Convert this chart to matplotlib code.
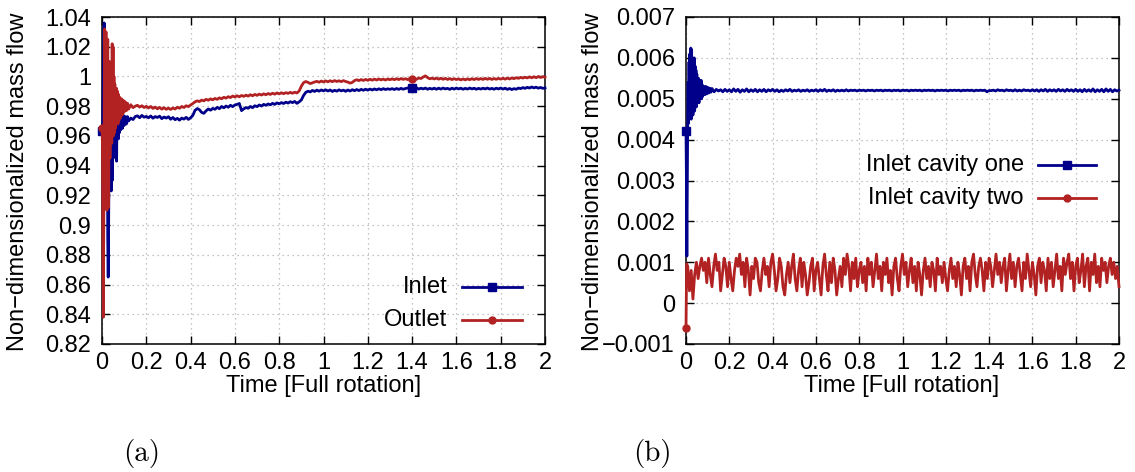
import numpy as np
import matplotlib
matplotlib.use('Agg')
import matplotlib.pyplot as plt
from matplotlib.ticker import FuncFormatter, MultipleLocator

# ---------------- data: panel (a), inlet / outlet mass flow ----------------
# start-up transient, sampled irregularly
t_trans_a = [0.000, 0.002, 0.004, 0.006, 0.008, 0.010, 0.012, 0.014, 0.016, 0.018,
             0.020, 0.022, 0.024, 0.026, 0.028, 0.030, 0.032, 0.034, 0.036, 0.038,
             0.040, 0.042, 0.044, 0.046, 0.048, 0.050, 0.052, 0.054, 0.056, 0.058,
             0.060, 0.062, 0.064, 0.066, 0.068, 0.070, 0.072, 0.074, 0.076, 0.078,
             0.080, 0.084, 0.088, 0.092, 0.096, 0.100, 0.105, 0.110, 0.115, 0.120,
             0.130, 0.140, 0.150]
inlet_trans = [0.963, 0.962, 0.975, 1.000, 1.030, 1.036, 1.010, 0.960, 0.990, 0.940,
               0.975, 0.920, 0.960, 0.890, 0.865, 0.900, 0.960, 0.985, 0.930, 0.975,
               0.945, 0.923, 0.960, 0.930, 0.975, 0.955, 0.985, 0.950, 0.990, 0.960,
               0.985, 0.945, 0.991, 0.943, 0.985, 0.960, 0.980, 0.958, 0.978, 0.962,
               0.976, 0.964, 0.975, 0.965, 0.974, 0.967, 0.973, 0.968, 0.973, 0.970,
               0.972, 0.971, 0.973]
outlet_trans = [0.965, 0.955, 0.900, 0.838, 0.900, 0.980, 1.032, 1.000, 0.940, 1.030,
                0.960, 0.910, 0.990, 1.025, 0.950, 0.912, 0.975, 1.010, 0.945, 0.990,
                0.960, 1.005, 0.955, 1.022, 0.965, 1.020, 0.960, 1.000, 0.962, 0.995,
                0.965, 0.990, 0.968, 0.992, 0.970, 0.990, 0.968, 0.988, 0.970, 0.986,
                0.986, 0.972, 0.985, 0.974, 0.984, 0.976, 0.983, 0.977, 0.982, 0.978,
                0.981, 0.979, 0.980]

# after the transient: samples every 0.01 rotation from 0.16 to 2.00
t_steady_a = np.round(np.arange(16, 201) * 0.01, 2)
inlet_steady = [
    0.9735, 0.9722, 0.9738, 0.9726, 0.9731,
    0.9722, 0.9734, 0.9719, 0.9730, 0.9724, 0.9733, 0.9716, 0.9727, 0.9720, 0.9729,
    0.9712, 0.9724, 0.9709, 0.9718, 0.9706, 0.9720, 0.9713, 0.9725, 0.9711, 0.9722,
    0.9738, 0.9772, 0.9784, 0.9776, 0.9758, 0.9752, 0.9769, 0.9781, 0.9773, 0.9785,
    0.9779, 0.9792, 0.9783, 0.9798, 0.9789, 0.9801, 0.9793, 0.9806, 0.9797, 0.9808,
    0.9812, 0.9818, 0.9770, 0.9782, 0.9791, 0.9786, 0.9798, 0.9790, 0.9803, 0.9797,
    0.9808, 0.9801, 0.9812, 0.9806, 0.9815, 0.9809, 0.9819, 0.9812, 0.9822, 0.9816,
    0.9824, 0.9818, 0.9827, 0.9821, 0.9830, 0.9824, 0.9832, 0.9819, 0.9829, 0.9842,
    0.9872, 0.9893, 0.9901, 0.9896, 0.9906, 0.9899, 0.9908, 0.9901, 0.9909, 0.9903,
    0.9910, 0.9902, 0.9909, 0.9899, 0.9907, 0.9901, 0.9910, 0.9903, 0.9908, 0.9900,
    0.9909, 0.9902, 0.9911, 0.9904, 0.9912, 0.9905, 0.9913, 0.9907, 0.9914, 0.9908,
    0.9915, 0.9909, 0.9916, 0.9910, 0.9917, 0.9911, 0.9918, 0.9912, 0.9917, 0.9913,
    0.9918, 0.9912, 0.9919, 0.9913, 0.9920, 0.9914, 0.9919, 0.9922, 0.9928, 0.9924,
    0.9918, 0.9924, 0.9915, 0.9921, 0.9916, 0.9922, 0.9914, 0.9920, 0.9915, 0.9921,
    0.9914, 0.9921, 0.9915, 0.9922, 0.9916, 0.9920, 0.9913, 0.9921, 0.9915, 0.9922,
    0.9916, 0.9921, 0.9914, 0.9920, 0.9915, 0.9922, 0.9916, 0.9921, 0.9914, 0.9920,
    0.9915, 0.9921, 0.9916, 0.9922, 0.9915, 0.9920, 0.9914, 0.9921, 0.9916, 0.9922,
    0.9915, 0.9921, 0.9913, 0.9919, 0.9912, 0.9918, 0.9914, 0.9922, 0.9918, 0.9925,
    0.9920, 0.9927, 0.9922, 0.9929, 0.9923, 0.9928, 0.9921, 0.9926, 0.9920, 0.9923,
]
outlet_steady = [
    0.9806, 0.9794, 0.9803, 0.9791, 0.9799,
    0.9788, 0.9798, 0.9785, 0.9794, 0.9782, 0.9792, 0.9780, 0.9790, 0.9779, 0.9787,
    0.9778, 0.9788, 0.9781, 0.9793, 0.9786, 0.9798, 0.9791, 0.9803, 0.9797, 0.9808,
    0.9818, 0.9829, 0.9836, 0.9831, 0.9841, 0.9836, 0.9846, 0.9840, 0.9849, 0.9843,
    0.9852, 0.9846, 0.9856, 0.9850, 0.9860, 0.9854, 0.9864, 0.9858, 0.9868, 0.9862,
    0.9870, 0.9863, 0.9872, 0.9866, 0.9874, 0.9868, 0.9877, 0.9870, 0.9879, 0.9873,
    0.9881, 0.9875, 0.9883, 0.9877, 0.9885, 0.9879, 0.9887, 0.9881, 0.9889, 0.9883,
    0.9890, 0.9884, 0.9891, 0.9886, 0.9893, 0.9887, 0.9894, 0.9889, 0.9902, 0.9935,
    0.9958, 0.9966, 0.9960, 0.9952, 0.9957, 0.9963, 0.9967, 0.9961, 0.9969, 0.9963,
    0.9970, 0.9964, 0.9971, 0.9965, 0.9972, 0.9966, 0.9971, 0.9965, 0.9972, 0.9966,
    0.9962, 0.9955, 0.9960, 0.9972, 0.9978, 0.9972, 0.9979, 0.9973, 0.9980, 0.9974,
    0.9981, 0.9975, 0.9982, 0.9976, 0.9983, 0.9977, 0.9982, 0.9976, 0.9983, 0.9978,
    0.9984, 0.9978, 0.9985, 0.9979, 0.9986, 0.9980, 0.9985, 0.9979, 0.9986, 0.9981,
    0.9987, 0.9981, 0.9990, 0.9986, 0.9996, 1.0004, 0.9992, 0.9984, 0.9989, 0.9983,
    0.9989, 0.9982, 0.9988, 0.9981, 0.9987, 0.9980, 0.9986, 0.9979, 0.9985, 0.9979,
    0.9984, 0.9977, 0.9983, 0.9977, 0.9984, 0.9978, 0.9985, 0.9979, 0.9986, 0.9980,
    0.9986, 0.9980, 0.9987, 0.9981, 0.9987, 0.9980, 0.9986, 0.9981, 0.9987, 0.9982,
    0.9988, 0.9982, 0.9989, 0.9983, 0.9990, 0.9985, 0.9992, 0.9987, 0.9994, 0.9989,
    0.9995, 0.9990, 0.9997, 0.9991, 0.9998, 0.9992, 0.9999, 0.9993, 0.9998, 0.9995,
]

# ---------------- data: panel (b), cavity inlets ----------------
t_trans_b = [0.000, 0.002, 0.004, 0.006, 0.008, 0.010, 0.012, 0.014, 0.016, 0.018,
             0.020, 0.022, 0.024, 0.026, 0.028, 0.030, 0.032, 0.034, 0.036, 0.038,
             0.040, 0.042, 0.044, 0.046, 0.048, 0.050, 0.052, 0.054, 0.056, 0.058,
             0.060, 0.062, 0.064, 0.066, 0.068, 0.070, 0.072, 0.074, 0.076, 0.078,
             0.080, 0.084, 0.088, 0.092, 0.096, 0.100, 0.105, 0.110, 0.115, 0.120,
             0.130, 0.140, 0.150]
# values in units of 1e-3
cavity_one_trans = [4.22, 3.00, 1.15, 2.80, 4.60, 5.40, 4.40, 5.90, 4.70, 6.10,
                    4.60, 6.24, 4.50, 6.20, 4.70, 6.00, 4.60, 5.90, 4.80, 6.00,
                    4.70, 5.80, 4.90, 5.70, 4.80, 5.60, 4.90, 5.50, 5.00, 5.50,
                    4.90, 5.45, 5.00, 5.40, 5.05, 5.45, 5.00, 5.35, 5.05, 5.30,
                    5.10, 5.30, 5.10, 5.30, 5.12, 5.28, 5.14, 5.26, 5.16, 5.25,
                    5.17, 5.23, 5.19]
t_steady_b = np.round(np.arange(16, 201) * 0.01, 2)
cavity_one_steady = [
    5.22, 5.17, 5.23, 5.18, 5.22,
    5.17, 5.24, 5.18, 5.23, 5.16, 5.22, 5.18, 5.24, 5.17, 5.22,
    5.18, 5.23, 5.17, 5.22, 5.18, 5.23, 5.17, 5.22, 5.19, 5.23,
    5.18, 5.22, 5.17, 5.21, 5.18, 5.22, 5.19, 5.23, 5.18, 5.21,
    5.19, 5.22, 5.18, 5.21, 5.19, 5.22, 5.18, 5.21, 5.19, 5.22,
    5.18, 5.22, 5.19, 5.23, 5.18, 5.21, 5.19, 5.22, 5.18, 5.21,
    5.19, 5.21, 5.19, 5.22, 5.19, 5.21, 5.20, 5.21, 5.19, 5.21,
    5.20, 5.21, 5.19, 5.21, 5.20, 5.21, 5.19, 5.21, 5.20, 5.21,
    5.19, 5.21, 5.20, 5.21, 5.19, 5.21, 5.20, 5.21, 5.19, 5.21,
    5.20, 5.21, 5.19, 5.21, 5.20, 5.21, 5.20, 5.21, 5.19, 5.21,
    5.20, 5.21, 5.20, 5.21, 5.19, 5.21, 5.20, 5.21, 5.20, 5.21,
    5.19, 5.21, 5.20, 5.21, 5.20, 5.21, 5.19, 5.21, 5.20, 5.21,
    5.20, 5.21, 5.19, 5.21, 5.20, 5.21, 5.20, 5.21, 5.17, 5.20,
    5.20, 5.21, 5.19, 5.22, 5.20, 5.21, 5.19, 5.22, 5.20, 5.21,
    5.19, 5.22, 5.19, 5.21, 5.19, 5.22, 5.20, 5.21, 5.19, 5.22,
    5.19, 5.22, 5.18, 5.22, 5.19, 5.23, 5.18, 5.22, 5.19, 5.22,
    5.18, 5.23, 5.19, 5.22, 5.18, 5.23, 5.19, 5.22, 5.18, 5.23,
    5.18, 5.22, 5.17, 5.23, 5.18, 5.22, 5.18, 5.24, 5.17, 5.22,
    5.18, 5.23, 5.17, 5.24, 5.18, 5.23, 5.17, 5.22, 5.19, 5.21,
]

# cavity two: first two samples, then every 0.008 rotation up to 2.0 (units of 1e-4)
t_start_two = [0.000, 0.003]
cavity_two_start = [-6.2, 9.6]
t_grid_two = np.round(np.arange(1, 251) * 0.008, 3)
cavity_two_grid = [
    9, 3, 8, 1, 7, 10, 6, 9, 11, 8,
    10, 5, 11, 7, 4, 9, 12, 8, 10, 3,
    7, 11, 9, 4, 10, 6, 3, 8, 11, 9,
    12, 7, 10, 4, 11, 8, 2, 9, 6, 11,
    10, 5, 3, 8, 11, 7, 9, 4, 10, 12,
    8, 3, 6, 11, 9, 4, 2, 7, 10, 5,
    9, 12, 6, 3, 8, 11, 4, 10, 7, 2,
    5, 9, 11, 3, 8, 10, 6, 2, 9, 12,
    7, 3, 10, 5, 11, 8, 2, 6, 9, 4,
    11, 7, 12, 9, 3, 10, 6, 11, 4, 8,
    10, 5, 9, 3, 11, 7, 10, 4, 8, 12,
    6, 9, 3, 10, 7, 11, 5, 8, 2, 9,
    11, 6, 3, 9, 12, 7, 10, 4, 8, 11,
    5, 9, 3, 10, 7, 2, 8, 11, 6, 9,
    4, 10, 8, 3, 11, 7, 9, 5, 10, 6,
    3, 8, 11, 6, 9, 4, 10, 7, 2, 9,
    11, 6, 9, 3, 10, 12, 7, 4, 9, 11,
    8, 3, 10, 6, 11, 9, 4, 8, 12, 7,
    10, 5, 9, 11, 3, 8, 12, 6, 10, 4,
    9, 11, 7, 3, 10, 6, 12, 8, 4, 10,
    7, 2, 9, 11, 5, 10, 8, 3, 11, 6,
    10, 4, 8, 12, 6, 9, 3, 11, 7, 10,
    12, 6, 10, 3, 9, 11, 5, 8, 12, 4,
    9, 11, 3, 10, 7, 12, 5, 9, 4, 11,
    8, 10, 5, 9, 11, 7, 10, 6, 9, 4,
]

labels_a = ['Inlet', 'Outlet']
labels_b = ['Inlet cavity one', 'Inlet cavity two']

BLUE = '#00008b'
RED = '#b22222'
FONT = 17
LW = 2.0

plt.rcParams['font.family'] = ['Liberation Sans', 'DejaVu Sans']
plt.rcParams['font.size'] = FONT


def gfmt(x, pos):
    if abs(x) < 1e-12:
        return '0'
    return f'{round(x, 6):g}'.replace('-', '\u2212')


def marker_idx(t, at_later=True):
    t = np.asarray(t)
    if not at_later:
        return [0]
    return [0, int(np.argmin(np.abs(t - 1.4)))]


def style(ax, ylim, ystep):
    ax.set_xlim(0, 2)
    ax.set_ylim(*ylim)
    ax.xaxis.set_major_locator(MultipleLocator(0.2))
    ax.yaxis.set_major_locator(MultipleLocator(ystep))
    ax.xaxis.set_major_formatter(FuncFormatter(gfmt))
    ax.yaxis.set_major_formatter(FuncFormatter(gfmt))
    ax.tick_params(direction='in', length=6, width=1, top=True, right=True,
                   labelsize=FONT, color='black')
    ax.tick_params(axis='x', pad=6)
    ax.tick_params(axis='y', pad=8)
    ax.grid(True, color='#b0b0b0', linestyle=(0, (1, 3)), linewidth=0.9)
    ax.set_axisbelow(True)
    for s in ax.spines.values():
        s.set_linewidth(1.1)


def key(ax, rows):
    # gnuplot-like key: right aligned text, line sample with a point in the middle
    for (label, color, marker, ms, y) in rows:
        ax.text(0.78, y, label, transform=ax.transAxes, ha='right', va='center',
                fontsize=FONT)
        ax.plot([0.813, 0.948], [y, y], color=color, lw=LW, transform=ax.transAxes)
        ax.plot([0.88], [y], color=color, marker=marker, ms=ms, lw=0,
                transform=ax.transAxes)


fig = plt.figure(figsize=(11.35, 4.72), dpi=100)
ax1 = fig.add_axes([102 / 1135, 1 - 344 / 472, 443 / 1135, 327 / 472])
ax2 = fig.add_axes([686 / 1135, 1 - 344 / 472, 433 / 1135, 327 / 472])

# panel (a)
t_a = np.concatenate([t_trans_a, t_steady_a])
inlet = np.concatenate([inlet_trans, inlet_steady])
outlet = np.concatenate([outlet_trans, outlet_steady])
ax1.plot(t_a, inlet, color=BLUE, lw=LW, marker='s', ms=5.5,
         markevery=marker_idx(t_a), clip_on=False, zorder=3)
ax1.plot(t_a, outlet, color=RED, lw=LW, marker='o', ms=5,
         markevery=marker_idx(t_a), clip_on=False, zorder=4)
style(ax1, (0.82, 1.04), 0.02)
key(ax1, [(labels_a[0], BLUE, 's', 5.5, 0.174),
          (labels_a[1], RED, 'o', 5, 0.072)])

# panel (b)
t_one = np.concatenate([t_trans_b, t_steady_b])
cav_one = np.concatenate([cavity_one_trans, cavity_one_steady]) * 1e-3
t_two = np.concatenate([t_start_two, t_grid_two])
cav_two = np.concatenate([cavity_two_start, cavity_two_grid]) * 1e-4
ax2.plot(t_one, cav_one, color=BLUE, lw=LW, marker='s', ms=5.5,
         markevery=marker_idx(t_one, False), clip_on=False, zorder=3)
ax2.plot(t_two, cav_two, color=RED, lw=LW, marker='o', ms=5,
         markevery=marker_idx(t_two, False), clip_on=False, zorder=4)
style(ax2, (-0.001, 0.007), 0.001)
key(ax2, [(labels_b[0], BLUE, 's', 5.5, 0.547),
          (labels_b[1], RED, 'o', 5, 0.448)])

# axis titles placed like the gnuplot output
ylab = 'Non\u2212dimensionalized mass flow'
xlab = 'Time [Full rotation]'
fig.text(18 / 1135, 1 - 182 / 472, ylab, rotation=90, ha='center', va='center',
         fontsize=FONT)
fig.text(593 / 1135, 1 - 182 / 472, ylab, rotation=90, ha='center', va='center',
         fontsize=FONT)
fig.text(324 / 1135, 1 - 386 / 472, xlab, ha='center', va='center', fontsize=FONT)
fig.text(902 / 1135, 1 - 386 / 472, xlab, ha='center', va='center', fontsize=FONT)

# sub-figure captions
fig.text(142 / 1135, 1 - 454 / 472, '(a)', ha='center', va='center',
         fontsize=21, family='cmr10')
fig.text(652 / 1135, 1 - 454 / 472, '(b)', ha='center', va='center',
         fontsize=21, family='cmr10')

fig.savefig('out.png', dpi=100)
